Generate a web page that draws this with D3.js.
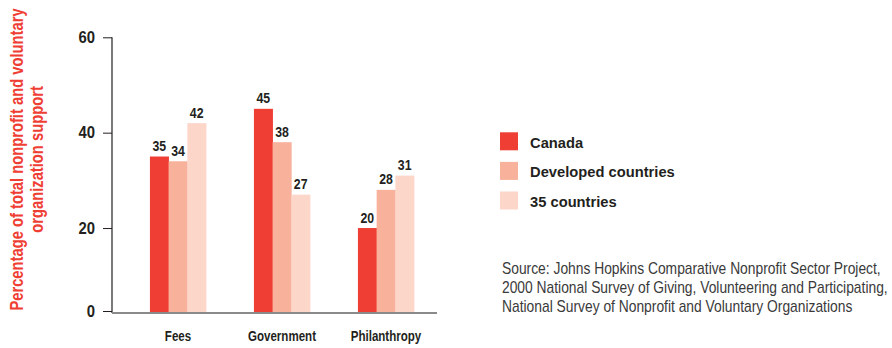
<!DOCTYPE html>
<html>
<head>
<meta charset="utf-8">
<script src="https://cdn.jsdelivr.net/npm/d3@7"></script>
<style>
  html, body { margin: 0; padding: 0; background: #fff; }
  svg { display: block; }
  text { font-family: "Liberation Sans", Arial, sans-serif; }
</style>
</head>
<body>
<svg id="chart" width="892" height="348"></svg>
<script>
// Sources of nonprofit and voluntary organization support (%)
const categories = ["Fees", "Government", "Philanthropy"];
const seriesNames = ["Canada", "Developed countries", "35 countries"];
const canada = [35, 45, 20];
const developed = [34, 38, 28];
const thirtyFive = [42, 27, 31];
const yTicks = [0, 20, 40, 60];
const titleLines = ["Percentage of total nonprofit and voluntary", "organization support"];
const sourceLines = [
  "Source: Johns Hopkins Comparative Nonprofit Sector Project,",
  "2000 National Survey of Giving, Volunteering and Participating,",
  "National Survey of Nonprofit and Voluntary Organizations"
];

const seriesValues = [canada, developed, thirtyFive];
const colors = ["#ef3e33", "#f8b19b", "#fdd6ca"];
const ink = "#231f20";
const FONT = "'Liberation Sans', Arial, sans-serif";

// Condensed look: move each text's anchor into its transform, then squeeze it horizontally by k
function narrow(sel, k) {
  sel.each(function () {
    const t = d3.select(this);
    const x = +t.attr("x") || 0;
    const yy = +t.attr("y") || 0;
    const prev = t.attr("transform") || "";
    t.attr("x", 0).attr("y", 0)
      .attr("transform", `${prev} translate(${x},${yy}) scale(${k},1)`);
  });
}

const svg = d3.select("#chart");

const axisX = 112;
const baseline = 313;

const y = d3.scaleLinear().domain([0, 60]).range([323.4, 37.3]);
const x0 = d3.scaleBand().domain(categories).range([126, 438])
  .paddingInner(0.46).paddingOuter(0.23);
const x1 = d3.scaleBand().domain(seriesNames).range([0, x0.bandwidth()]);

// bars
const groups = svg.append("g").selectAll("g")
  .data(categories)
  .join("g")
  .attr("transform", d => `translate(${x0(d)},0)`);

const cells = groups.selectAll("g")
  .data((c, i) => seriesNames.map((s, k) => ({ series: s, k, value: seriesValues[k][i] })))
  .join("g");

cells.append("rect")
  .attr("x", d => x1(d.series))
  .attr("width", x1.bandwidth() + 0.3)
  .attr("y", d => y(d.value))
  .attr("height", d => baseline - y(d.value))
  .attr("fill", d => colors[d.k]);

cells.append("text")
  .attr("x", d => x1(d.series) + x1.bandwidth() / 2)
  .attr("y", d => y(d.value) - 5.5)
  .attr("text-anchor", "middle")
  .attr("font-size", 14)
  .attr("font-weight", "bold")
  .attr("fill", ink)
  .text(d => d.value)
  .call(narrow, 0.88);

// y axis
const yAxis = d3.axisLeft(y).tickValues(yTicks).tickSize(9).tickPadding(8)
  .tickFormat(d3.format("d"));
const gy = svg.append("g").attr("transform", `translate(${axisX},0)`).call(yAxis);
gy.select(".domain").remove();
gy.selectAll(".tick").filter(d => d === 0).attr("transform", `translate(0,${baseline - 1.5})`);
gy.selectAll(".tick line").attr("stroke", ink).attr("stroke-width", 1);
gy.selectAll(".tick text")
  .attr("font-size", 16)
  .attr("font-weight", "bold")
  .attr("fill", ink)
  .attr("font-family", FONT)
  .call(narrow, 0.93);

svg.append("line")
  .attr("x1", axisX).attr("x2", axisX)
  .attr("y1", y(60)).attr("y2", baseline)
  .attr("stroke", ink).attr("stroke-width", 1.2);

svg.append("line")
  .attr("x1", axisX).attr("x2", 437)
  .attr("y1", baseline).attr("y2", baseline)
  .attr("stroke", "#8a8a8a").attr("stroke-width", 2);

// category labels
svg.append("g").selectAll("text")
  .data(categories)
  .join("text")
  .attr("x", d => x0(d) + x0.bandwidth() / 2)
  .attr("y", 341)
  .attr("text-anchor", "middle")
  .attr("font-size", 15)
  .attr("font-weight", "bold")
  .attr("fill", ink)
  .text(d => d)
  .call(narrow, 0.77);

// y axis title
svg.append("g").selectAll("text")
  .data(titleLines)
  .join("text")
  .attr("transform", (d, i) => `translate(${23 + i * 20},159.5) rotate(-90)`)
  .attr("text-anchor", "middle")
  .attr("font-size", 18)
  .attr("font-weight", "bold")
  .attr("fill", "#ef3e33")
  .text(d => d)
  .call(narrow, 0.82);

// legend
const legend = svg.append("g").selectAll("g")
  .data(seriesNames)
  .join("g")
  .attr("transform", (d, i) => `translate(500,${132.3 + i * 29.6})`);
legend.append("rect")
  .attr("width", 18).attr("height", 18)
  .attr("fill", (d, i) => colors[i]);
legend.append("text")
  .attr("x", 30).attr("y", 15.3)
  .attr("font-size", 15.5)
  .attr("font-weight", "bold")
  .attr("fill", ink)
  .text(d => d)
  .call(narrow, 0.95);

// source note
svg.append("g").selectAll("text")
  .data(sourceLines)
  .join("text")
  .attr("x", 502)
  .attr("y", (d, i) => 274 + i * 19)
  .attr("font-size", 16)
  .attr("fill", "#3a3a3a")
  .text(d => d)
  .call(narrow, 0.865);
</script>
</body>
</html>
